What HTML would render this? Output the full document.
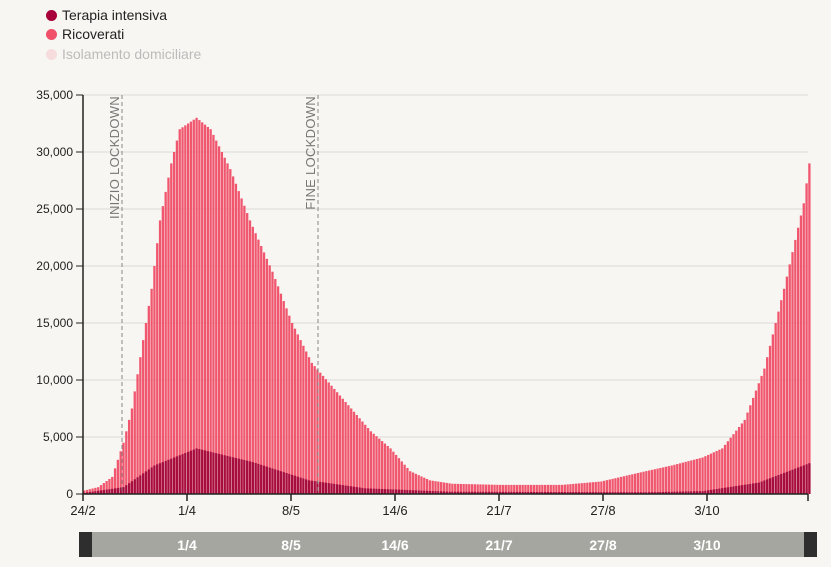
<!DOCTYPE html>
<html><head><meta charset="utf-8">
<style>
body{margin:0;background:#f7f6f2;font-family:"Liberation Sans",sans-serif;}
#c{position:absolute;left:0;top:0;width:831px;height:567px;}
.lg{position:absolute;left:46px;font-size:14px;color:#222;}
.lg span{display:inline-block;width:11px;height:11px;border-radius:50%;margin-right:5px;vertical-align:-1px}
</style></head><body>
<div class="lg" style="top:7px"><span style="background:#a8003a"></span>Terapia intensiva</div>
<div class="lg" style="top:26px"><span style="background:#f0506a"></span>Ricoverati</div>
<div class="lg" style="top:46px;color:#bbb"><span style="background:#f6dcdc"></span>Isolamento domiciliare</div>
<svg id="c" width="831" height="567" xmlns="http://www.w3.org/2000/svg" font-family="Liberation Sans, sans-serif"></svg>
<script>
const s=document.getElementById('c');let h='';
const y0=494,k=399/35000,x0=83,dx=2.811;
for(let i=0;i<=7;i++){const v=i*5000,y=y0-v*k;
 if(i>0)h+=`<line x1="83" x2="808" y1="${y}" y2="${y}" stroke="#dcdad5" stroke-width="1"/>`;
 h+=`<line x1="76" x2="83" y1="${y}" y2="${y}" stroke="#222"/>`;
 h+=`<text x="73" y="${y+4}" font-size="12" text-anchor="end" fill="#222">${v?v.toLocaleString('en-US'):0}</text>`;}
function interp(p,d){for(let i=0;i<p.length-1;i++){if(d>=p[i][0]&&d<=p[i+1][0]){const t=(d-p[i][0])/(p[i+1][0]-p[i][0]);return p[i][1]+(p[i+1][1]-p[i][1])*t;}}return p[p.length-1][1];}
const T=[[0,300],[5,600],[10,1500],[14,4500],[17,7500],[20,12000],[24,18000],[27,24000],[31,29000],[34,32000],[40,33000],[45,32000],[52,28500],[59,24000],[67,19500],[74,15000],[81,11500],[88,9500],[95,7500],[102,5500],[109,4000],[116,2000],[123,1200],[131,900],[148,800],[170,800],[184,1100],[198,1900],[209,2500],[220,3200],[227,4000],[235,6500],[242,11000],[249,18000],[256,25500],[258,29000]];
const I=[[0,100],[14,600],[25,2500],[40,4000],[60,2800],[80,1200],[100,500],[130,200],[200,150],[220,250],[240,1000],[258,2700]];
for(let d=0;d<=258;d++){const x=x0+d*dx;const t=interp(T,d),ti=interp(I,d);
 h+=`<rect x="${x}" y="${y0-t*k}" width="2.3" height="${t*k}" fill="#f0566e"/>`;
 h+=`<rect x="${x}" y="${y0-ti*k}" width="2.3" height="${ti*k}" fill="#a60c3e"/>`;}
h+=`<line x1="83" x2="83" y1="95" y2="494" stroke="#222" stroke-width="1.5"/>`;
h+=`<line x1="83" x2="808" y1="494" y2="494" stroke="#222" stroke-width="1.5"/>`;
const L=[[83,'24/2'],[187,'1/4'],[291,'8/5'],[395,'14/6'],[499,'21/7'],[603,'27/8'],[707,'3/10'],[808,'']];
for(const [x,t] of L){h+=`<line x1="${x}" x2="${x}" y1="494" y2="501" stroke="#222" stroke-width="1.5"/><text x="${x}" y="515" font-size="13" text-anchor="middle" fill="#222">${t}</text>`;}
for(const [x,t] of [[122,'INIZIO LOCKDOWN'],[318,'FINE LOCKDOWN']]){
 h+=`<line x1="${x}" x2="${x}" y1="95" y2="494" stroke="#888" stroke-dasharray="4,3"/>`;
 h+=`<text transform="translate(${x-3},96) rotate(-90)" font-size="13" letter-spacing="0.3" text-anchor="end" fill="#777">${t}</text>`;}
h+=`<rect x="79" y="532" width="738" height="25" fill="#a6a6a1"/><rect x="79" y="532" width="13" height="25" fill="#2e2e2e"/><rect x="804" y="532" width="13" height="25" fill="#2e2e2e"/>`;
for(const [x,t] of L.slice(1,7))h+=`<text x="${x}" y="550" font-size="14" font-weight="bold" text-anchor="middle" fill="#fff">${t}</text>`;
s.innerHTML=h;
</script>
</body></html>
